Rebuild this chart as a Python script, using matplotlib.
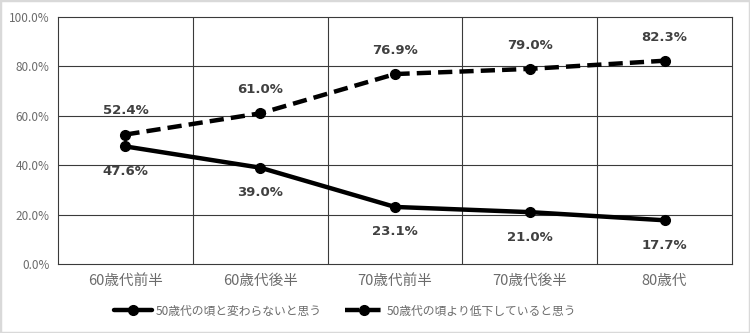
import numpy as np
import matplotlib
matplotlib.use("Agg")
import matplotlib.pyplot as plt
from matplotlib.patches import Rectangle

plt.rcParams['font.family'] = ['Noto Sans CJK JP', 'DejaVu Sans']

categories = ["60歳代前半", "60歳代後半", "70歳代前半", "70歳代後半", "80歳代"]
same_vals = [47.6, 39.0, 23.1, 21.0, 17.7]
lower_vals = [52.4, 61.0, 76.9, 79.0, 82.3]
series_names = ["50歳代の頃と変わらないと思う", "50歳代の頃より低下していると思う"]
y_ticks = [0, 20, 40, 60, 80, 100]

fig = plt.figure(figsize=(7.5, 3.33), dpi=100)
ax = fig.add_axes([58 / 750, 1 - 264 / 333, (732 - 58) / 750, (264 - 17) / 333])

x = np.arange(len(categories))
ax.plot(x, same_vals, color="black", linewidth=3.2, marker="o", markersize=7,
        solid_capstyle="round", label=series_names[0], zorder=3)
ax.plot(x, lower_vals, color="black", linewidth=3.2, marker="o", markersize=7,
        linestyle=(0, (3.2, 1.6)), label=series_names[1], zorder=3)

for i, v in enumerate(same_vals):
    ax.annotate(f"{v:.1f}%", (i, v), xytext=(0, -18), textcoords="offset points",
                ha="center", va="center", fontsize=9.5, fontweight="bold",
                color="#404040", family="DejaVu Sans")
for i, v in enumerate(lower_vals):
    ax.annotate(f"{v:.1f}%", (i, v), xytext=(0, 17), textcoords="offset points",
                ha="center", va="center", fontsize=9.5, fontweight="bold",
                color="#404040", family="DejaVu Sans")

ax.set_xlim(-0.5, len(categories) - 0.5)
ax.set_ylim(0, 100)
ax.set_yticks(y_ticks)
ax.set_yticklabels([f"{t:.1f}%" for t in y_ticks], fontsize=8.5, color="#6b6b6b")
ax.set_xticks(x)
ax.set_xticklabels(categories, fontsize=10.5, color="#6b6b6b")
ax.tick_params(length=0, pad=7)
ax.tick_params(axis="y", pad=6)

for yt in y_ticks[1:-1]:
    ax.axhline(yt, color="#3a3a3a", linewidth=0.8, zorder=1)
for xb in np.arange(0.5, len(categories) - 0.5, 1):
    ax.axvline(xb, color="#3a3a3a", linewidth=0.8, zorder=1)
for s in ax.spines.values():
    s.set_color("#3a3a3a")
    s.set_linewidth(0.8)

leg = fig.legend(loc="center", bbox_to_anchor=(0.46, 1 - 311 / 333), ncol=2,
                 frameon=False, fontsize=8.5, handlelength=3.2, columnspacing=2.0,
                 handletextpad=0.3)
for t in leg.get_texts():
    t.set_color("#6b6b6b")

fig.patches.append(Rectangle((0, 0), 1, 1, transform=fig.transFigure, fill=False,
                             edgecolor="#d9d9d9", linewidth=2.5))

fig.savefig("out.png", dpi=100)
